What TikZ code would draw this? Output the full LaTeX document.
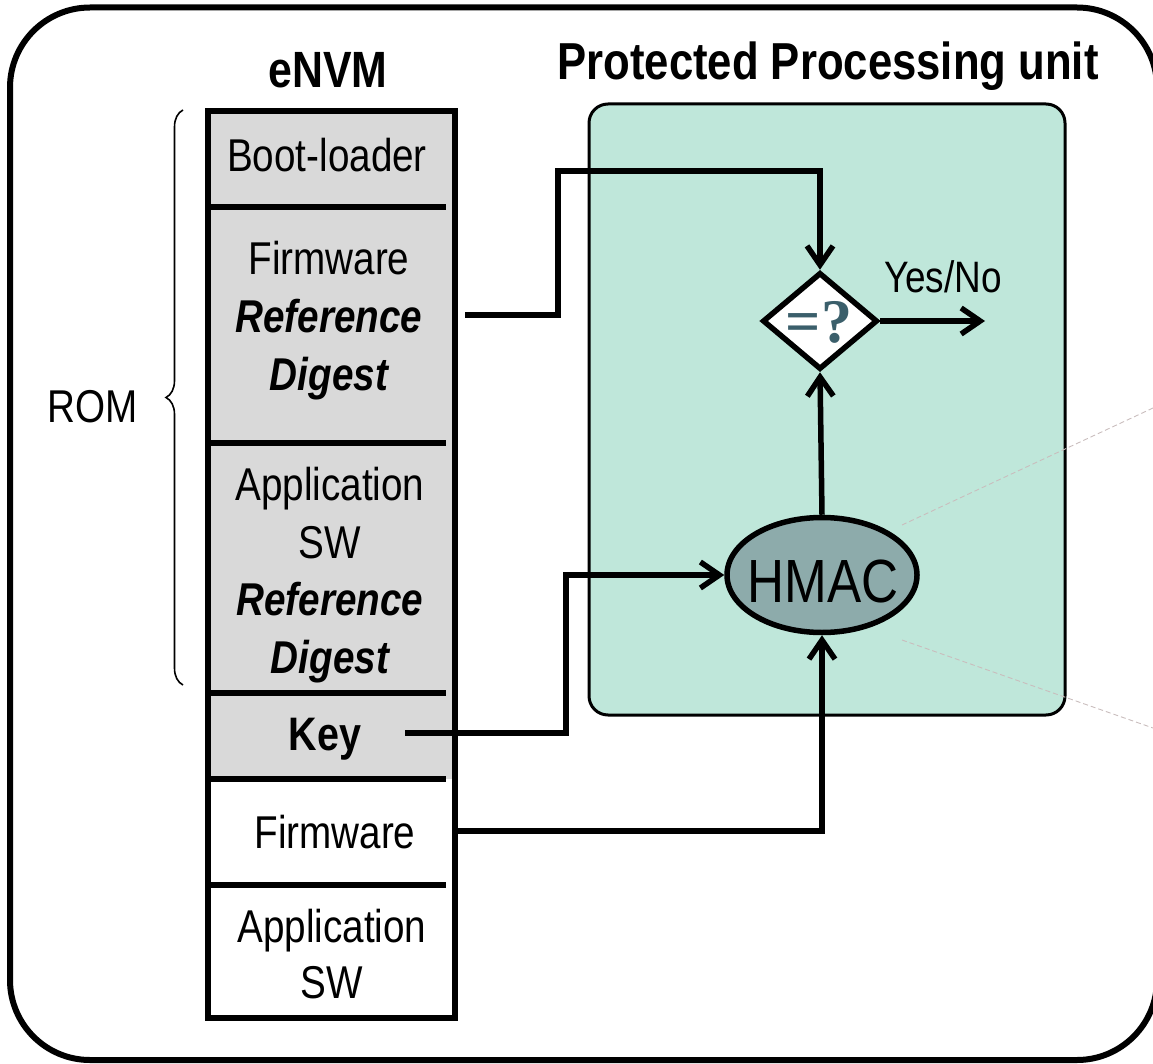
\documentclass[tikz,border=0pt]{standalone}
\usepackage{fontspec}
\setmainfont{Liberation Sans}[FakeStretch=0.84]
\newfontfamily\qfont{Liberation Serif}
\usetikzlibrary{shapes.geometric,arrows.meta,decorations.pathreplacing}

\definecolor{unitfill}{HTML}{BFE7DA}
\definecolor{hmacfill}{HTML}{8DABAB}
\definecolor{romfill}{HTML}{D9D9D9}
\definecolor{qmark}{HTML}{3B5F6B}
\definecolor{guide}{HTML}{C9BDBD}

\newcommand\setfs[1]{\fontsize{#1}{#1}\selectfont}

\begin{document}
\begin{tikzpicture}[x=1pt,y=-1pt,
  txt/.style={anchor=base, inner sep=0pt, font=\setfs{46}},
  head/.style={anchor=base, inner sep=0pt, font=\setfs{52}\bfseries},
  flow/.style={line width=5.5pt, -{Straight Barb[length=19pt,width=26pt]}},
  sepline/.style={line width=5.5pt},
]
\useasboundingbox (0,0) rectangle (1153,1064);
\clip (0,0) rectangle (1153,1064);

% outer frame
\draw[line width=6pt, rounded corners=80pt] (10,7.5) rectangle (1157,1060);

% protected processing unit
\draw[line width=3pt, fill=unitfill, rounded corners=19pt] (589,104) rectangle (1065,715);
\node[head] (pputitle) at (828,80) {Protected Processing unit};

% eNVM column
\node[head, font=\setfs{51}\bfseries] (envmtitle) at (328,88) {eNVM};
\fill[romfill] (207.5,111) rectangle (454.5,779);
\foreach \y in {207,443,693,779,885}
  \draw[sepline] (208,\y) -- (446,\y);
\draw[line width=6pt] (208,111.5) rectangle (454.5,1018);

% section texts
\node[txt] (boot) at (327,172) {Boot-loader};
\node[txt] (fw1) at (329,275) {Firmware};
\node[txt, font=\setfs{46}\bfseries\itshape] (fwref) at (329,333) {Reference};
\node[txt, font=\setfs{46}\bfseries\itshape] (fwdig) at (329,390) {Digest};
\node[txt] (app1) at (330,500) {Application};
\node[txt] (sw1) at (330,558) {SW};
\node[txt, font=\setfs{46}\bfseries\itshape] (appref) at (330,615) {Reference};
\node[txt, font=\setfs{46}\bfseries\itshape] (appdig) at (330,673) {Digest};
\node[txt, font=\setfs{47}\bfseries] (key) at (325,750) {Key};
\node[txt] (fw2) at (335,848) {Firmware};
\node[txt] (app2) at (332,942) {Application};
\node[txt] (sw2) at (332,998) {SW};

% ROM brace
\draw[line width=1.6pt, decorate, decoration={brace, amplitude=17pt}] (183,685) -- (183,110);
\node[txt] (rom) at (93,422) {ROM};

% compare and HMAC blocks
\node[diamond, draw, fill=white, line width=5.5pt, inner sep=0pt,
      minimum width=115pt, minimum height=97pt] (cmp) at (820,321) {};
\node[anchor=base, inner sep=0pt, text=qmark, font=\qfont\setfs{62}\bfseries] (cmptext) at (819,342) {=?};
\node[ellipse, draw, fill=hmacfill, line width=5.5pt, inner sep=0pt,
      minimum width=190pt, minimum height=115pt] (hmac) at (822,575) {};
\node[anchor=base, inner sep=0pt, font=\setfs{61}] (hmactext) at (823,602) {HMAC};

% connector end points
\coordinate (refout) at (465,315);
\coordinate (refbend) at (558,171);
\coordinate (keyout) at (405,733);
\coordinate (keybend) at (566,575);
\coordinate (fwout) at (457,831);
\coordinate (result) at (985,321);

% connectors
\draw[flow] (refout) -| (refbend) -| (cmp.north);
\draw[flow] (hmac.north) -- (cmp.south);
\draw[flow] (keyout) -| (keybend) -- (hmac.west);
\draw[flow] (fwout) -| (hmac.south);
\draw[flow] (cmp.east) -- (result);
\node[txt, font=\setfs{44}] (yesno) at (943,293) {Yes/No};

% guide lines
\draw[guide, line width=0.9pt, dash pattern=on 5pt off 3pt] (902,525) -- (1153,408);
\draw[guide, line width=0.9pt, dash pattern=on 5pt off 3pt] (902,640) -- (1153,728);
\end{tikzpicture}
\end{document}
